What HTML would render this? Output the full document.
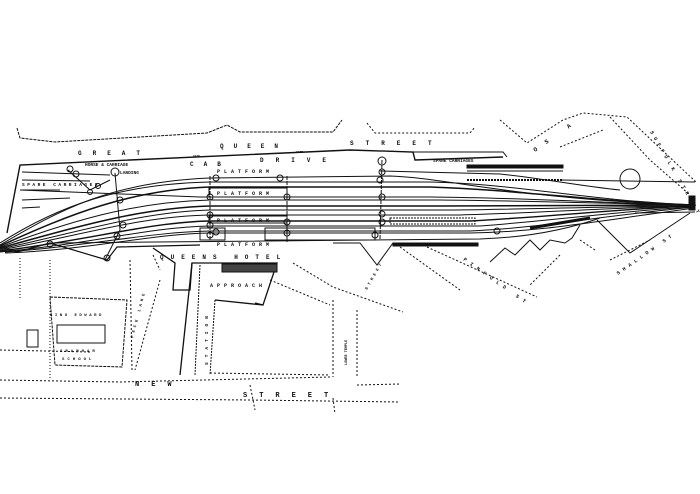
<!DOCTYPE html>
<html><head><meta charset="utf-8"><style>
html,body{margin:0;padding:0;background:#fff}
svg{display:block}
text{font-family:"Liberation Mono",monospace;fill:#111;font-weight:bold}
</style></head><body>
<svg width="700" height="494" viewBox="0 0 700 494" xmlns="http://www.w3.org/2000/svg">
<g stroke="#111" fill="none" stroke-width="1">
<!-- top boundaries -->
<path d="M17,128 L20,138 L55,142 L207,133 L227,125 L240,132 L333,132 L342,120" stroke-dasharray="3,1"/>
<path d="M367,123 L375,133 L470,133 L475,127" stroke-dasharray="2,2"/>
<path d="M500,120 L527,143 L563,120 L583,113 L627,117 L697,183" stroke-dasharray="2,2"/>
<path d="M610,117 L650,160 L690,195" stroke-dasharray="2,2"/>
<path d="M560,147 L603,130" stroke-dasharray="2,2"/>
<!-- cab drive & left boundary -->
<path d="M7,233 L20,165 L350,150 L413,152 L415,160 L503,157" stroke-width="1.4"/>
<path d="M413,152 L503,152 L507,157"/>
<!-- tracks -->
<g stroke-width="1">
<path d="M0,245 C60,210 110,182 210,178 L390,176 C450,178 520,200 695,205"/>
<path d="M0,243 C60,205 120,184 210,182 L430,182 C520,184 580,200 695,205"/>
<path d="M0,246 C70,214 130,190 210,187 L430,187 C520,190 600,202 695,205" stroke-width="1.5"/>
<path d="M20,190 L200,197 L430,197 C540,198 620,204 695,205"/>
<path d="M0,247 C70,222 130,202 210,200 L440,200 C540,201 620,204 695,205"/>
<path d="M0,248 C80,226 140,208 210,206 L440,206 C540,206 620,205 695,205" stroke-width="1.5"/>
<path d="M0,249 C80,232 140,212 210,210 L450,210 C540,209 620,206 695,206"/>
<path d="M0,250 C80,236 140,216 210,215 L460,215 C540,213 620,207 695,206"/>
<path d="M0,251 C90,240 150,222 210,221 L470,221 C560,216 630,208 695,206" stroke-width="1.4"/>
<path d="M0,252 C90,244 150,227 210,226 L480,226 C560,220 630,210 695,207"/>
<path d="M5,252 C90,246 150,232 210,231 L470,231 C540,228 600,216 695,207"/>
<path d="M5,253 C90,250 150,234 210,233 L470,233 C540,232 590,222 695,208"/>
<path d="M50,243 L480,239 C540,237 580,225 600,218"/>
<path d="M22,172 L110,175"/><path d="M22,180 L90,181"/><path d="M22,190 L60,190"/>
<path d="M22,200 L70,198"/><path d="M22,208 L40,207"/>
<path d="M380,171 L500,174 C540,178 580,186 620,190"/>
<path d="M560,180 L695,182"/>
<path d="M635,213 L695,212"/>
</g>
<!-- platforms -->
<rect x="209" y="188" width="78" height="9"/>
<rect x="209" y="216" width="78" height="7"/>
<rect x="200" y="228" width="25" height="12"/>
<rect x="265" y="228" width="110" height="12"/>
<rect x="390" y="218" width="85" height="6" stroke-dasharray="2,1"/>
<!-- bridges -->
<path d="M210,176 L210,242 M287,176 L287,242 M382,160 L380,240" stroke-dasharray="4,1"/>
<path d="M115,173 L120,230 L105,260 M68,170 L90,190 L110,180" />
<circle cx="115" cy="172" r="4"/><circle cx="70" cy="169" r="3"/><circle cx="76" cy="174" r="3"/>
<circle cx="90" cy="192" r="2.5"/><circle cx="98" cy="186" r="2.5"/><circle cx="120" cy="200" r="3"/>
<circle cx="123" cy="225" r="3"/><circle cx="117" cy="236" r="3"/><circle cx="107" cy="258" r="3"/><circle cx="50" cy="244" r="3"/>
<circle cx="216" cy="178" r="3"/><circle cx="210" cy="197" r="3"/><circle cx="210" cy="215" r="3"/><circle cx="210" cy="225" r="3"/><circle cx="210" cy="235" r="3"/><circle cx="216" cy="232" r="3"/>
<circle cx="280" cy="178" r="3"/><circle cx="287" cy="197" r="3"/><circle cx="287" cy="222" r="3"/><circle cx="287" cy="233" r="3"/>
<circle cx="382" cy="161" r="4"/><circle cx="382" cy="172" r="3"/><circle cx="380" cy="180" r="3"/><circle cx="382" cy="197" r="3"/><circle cx="382" cy="214" r="3"/><circle cx="382" cy="222" r="3"/><circle cx="375" cy="235" r="3"/>
<circle cx="630" cy="179" r="10"/><circle cx="497" cy="231" r="3"/>
<!-- bars -->
<rect x="467" y="165" width="96" height="3" fill="#111"/>
<path d="M467,171 L563,171"/><path d="M467,180 L563,180" stroke-dasharray="2,1" stroke-width="2"/>
<rect x="393" y="243" width="85" height="3" fill="#111"/>
<rect x="689" y="196" width="6" height="14" fill="#111"/>
<path d="M530,228 L590,218" stroke-width="3"/>
<!-- south boundaries -->
<path d="M0,247 L17,252 L50,243 L107,260 L117,247 L200,245" stroke-width="1.2"/>
<path d="M333,243 L360,243 L377,265 L393,243 L478,245"/>
<path d="M490,262 L505,248 L515,255 L530,240 L540,250 L550,240 L565,243 L572,238 L580,225"/>
<path d="M597,220 L630,253 L690,213"/>
<path d="M427,247 L537,297 M400,247 L460,290 M580,240 L595,250 M610,260 L650,240 M560,255 L530,285" stroke-dasharray="2,2"/>
<!-- hotel / approach -->
<path d="M153,248 L175,263 L173,290 L190,290 L192,263 L277,263 L263,305 L255,303" stroke-width="1.3"/>
<rect x="222" y="264" width="55" height="8" fill="#444"/>
<path d="M192,263 L180,375" stroke-width="1.3"/>
<path d="M200,265 L195,375 M215,300 L210,375" stroke-dasharray="2,1"/>
<path d="M215,300 L263,305" stroke-width="1.3"/>
<path d="M153,255 L160,270 M160,280 L135,370 M130,260 L132,370" stroke-dasharray="2,2"/>
<path d="M20,258 L20,300 M50,260 L50,380" stroke-dasharray="1,2"/>
<path d="M293,263 L333,287 L403,312 M333,300 L333,377 M357,310 L357,377 M270,280 L330,305" stroke-dasharray="2,2"/>
<path d="M0,350 L90,352 M0,380 L120,382 L330,377 M0,398 L250,400 L400,402 M210,373 L330,375" stroke-dasharray="2,2"/>
<path d="M357,385 L400,384 M250,385 L255,410 M333,398 L335,414" stroke-dasharray="2,2"/>
<!-- grammar school -->
<path d="M50,297 L127,300 L122,367 L55,365 Z" stroke-dasharray="3,1"/>
<path d="M57,325 L105,325 L105,343 L57,343 Z"/>
<path d="M27,330 L38,330 L38,347 L27,347 Z"/>
</g>
<g font-size="6">
<text x="78" y="155" letter-spacing="11">GREAT</text>
<text x="220" y="148" letter-spacing="10">QUEEN</text>
<text x="350" y="145" letter-spacing="12">STREET</text>
<text x="190" y="166" letter-spacing="10">CAB</text>
<text x="260" y="162" letter-spacing="12">DRIVE</text>
<text x="193" y="157" font-size="3">GATE</text><text x="296" y="153" font-size="3">GATE</text>
<text x="85" y="166" font-size="4.5">HORSE &amp; CARRIAGE</text>
<text x="120" y="174" font-size="4.5">LANDING</text>
<text x="22" y="186" font-size="4.5" letter-spacing="2.5">SPARE CARRIAGES</text>
<text x="217" y="173" font-size="5" letter-spacing="4">PLATFORM</text>
<text x="217" y="195" font-size="5" letter-spacing="4">PLATFORM</text>
<text x="217" y="222" font-size="5" letter-spacing="4">PLATFORM</text>
<text x="217" y="246" font-size="5" letter-spacing="4">PLATFORM</text>
<text x="433" y="162" font-size="4.5">SPARE CARRIAGES</text>
<text x="160" y="259" letter-spacing="7">QUEENS HOTEL</text>
<text x="210" y="287" font-size="5" letter-spacing="4">APPROACH</text>
<text x="135" y="386" letter-spacing="12" font-size="7">NEW</text>
<text x="243" y="397" letter-spacing="12" font-size="7">STREET</text>
<text x="50" y="316" font-size="4" letter-spacing="2.5">KING EDWARD</text>
<text x="60" y="352" font-size="4" letter-spacing="3">GRAMMAR</text>
<text x="62" y="360" font-size="4" letter-spacing="3">SCHOOL</text>
<text transform="translate(133,338) rotate(-75)" font-size="4" letter-spacing="3">PECK LANE</text>
<text transform="translate(208,365) rotate(-90)" font-size="4.5" letter-spacing="5">STATION</text>
<text transform="translate(347,365) rotate(-90)" font-size="3.5">LOWER TEMPLE</text>
<text transform="translate(367,290) rotate(-60)" font-size="4" letter-spacing="3">STREET</text>
<text transform="translate(463,260) rotate(35)" font-size="5" letter-spacing="5">PINFOLD ST</text>
<text transform="translate(618,275) rotate(-35)" font-size="5" letter-spacing="4">SHALLOW ST</text>
<text transform="translate(650,132) rotate(60)" font-size="5" letter-spacing="4">SUFFOLK STREET</text>
<text transform="translate(535,152) rotate(-35)" font-size="6" letter-spacing="10">OS A</text>
</g>
</svg>
</body></html>
